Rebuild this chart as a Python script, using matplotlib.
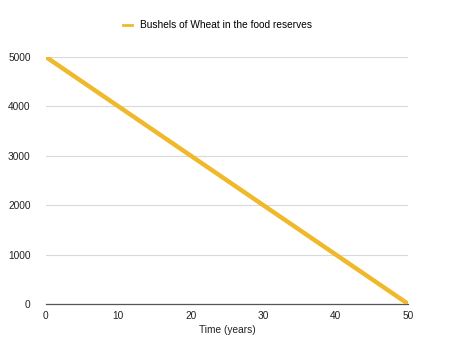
import matplotlib
matplotlib.use("Agg")
from matplotlib import pyplot as plt
from matplotlib.lines import Line2D

years = [0, 10, 20, 30, 40, 50]
wheat = [5000, 4000, 3000, 2000, 1000, 0]
yTicks = [0, 1000, 2000, 3000, 4000, 5000]
xTicks = [0, 10, 20, 30, 40, 50]
label = 'Bushels of Wheat in the food reserves'

plt.rcParams['font.family'] = ['Liberation Sans', 'DejaVu Sans']

fig = plt.figure(figsize=(4.5, 3.58), dpi=100)
ax = fig.add_axes([0.102, 0.151, 0.805, 0.69])

ax.plot(years, wheat, color='#F0B92C', linewidth=3.2, solid_capstyle='round',
        label=label, zorder=3)

ax.set_xlim(0, 50)
ax.set_ylim(0, 5000)
ax.set_xticks(xTicks)
ax.set_yticks(yTicks)
ax.tick_params(length=0, labelsize=7.3, colors='#222222')
ax.tick_params(axis='y', pad=11)
ax.tick_params(axis='x', pad=5)
ax.grid(axis='y', color='#D9D9D9', linewidth=0.8)
ax.set_axisbelow(True)
for s in ['top', 'right', 'left']:
    ax.spines[s].set_visible(False)
ax.spines['bottom'].set_color('#555555')
ax.spines['bottom'].set_linewidth(0.9)
ax.spines['bottom'].set_zorder(2)

ax.set_xlabel('Time (years)', fontsize=7.3, color='#222222', labelpad=3)

handle = Line2D([], [], color='#F0B92C', linewidth=2)
fig.legend([handle], [label], loc='center', bbox_to_anchor=(0.483, 0.93),
           frameon=False, fontsize=7.3, handlelength=0.9, handletextpad=0.8)

fig.savefig('out.png', dpi=100)
